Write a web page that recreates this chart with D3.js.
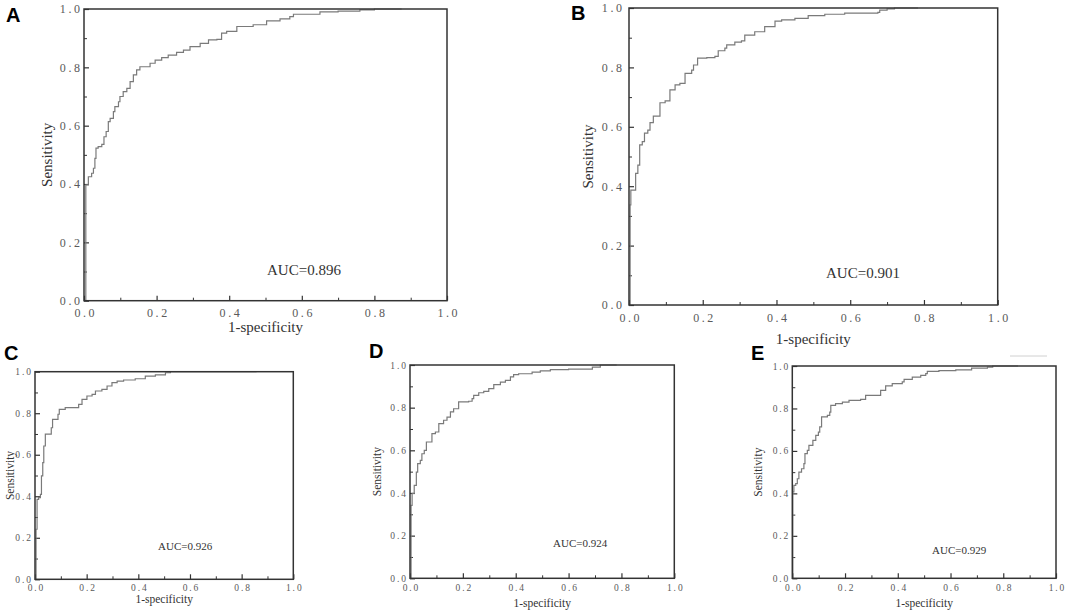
<!DOCTYPE html>
<html><head><meta charset="utf-8">
<script src="https://cdn.jsdelivr.net/npm/d3@7/dist/d3.min.js"></script>
<style>
html,body{margin:0;padding:0;background:#fff;}
svg{display:block;}
</style></head>
<body>
<svg id="chart" width="1065" height="611"></svg>
<script>
// ---------- DATA ----------
const panelLetters = ["A", "B", "C", "D", "E"];
const aucLabels = ["AUC=0.896", "AUC=0.901", "AUC=0.926", "AUC=0.924", "AUC=0.929"];
const xAxisTitle = "1-specificity";
const yAxisTitle = "Sensitivity";
const majorTicks = [0, 0.2, 0.4, 0.6, 0.8, 1.0];
const minorTicks = [0.1, 0.3, 0.5, 0.7, 0.9];

// [1-specificity, sensitivity]
const rocA = [[0,0],[0.005,0.077],[0.005,0.397],[0.012,0.425],[0.021,0.437],[0.026,0.454],[0.030,0.488],[0.033,0.523],[0.039,0.528],[0.049,0.536],[0.055,0.562],[0.061,0.580],[0.067,0.614],[0.072,0.625],[0.081,0.648],[0.085,0.665],[0.095,0.682],[0.099,0.700],[0.108,0.717],[0.118,0.728],[0.127,0.751],[0.136,0.774],[0.145,0.791],[0.154,0.802],[0.168,0.802],[0.182,0.814],[0.196,0.825],[0.214,0.833],[0.232,0.842],[0.255,0.851],[0.274,0.859],[0.292,0.871],[0.320,0.882],[0.343,0.894],[0.366,0.896],[0.379,0.917],[0.393,0.923],[0.421,0.940],[0.466,0.946],[0.503,0.959],[0.540,0.966],[0.567,0.974],[0.577,0.982],[0.620,0.982],[0.650,0.990],[0.700,0.993],[0.760,0.997],[0.800,1.0],[0.875,1.0]];
const rocB = [[0,0],[0.003,0.337],[0.005,0.387],[0.018,0.387],[0.018,0.443],[0.024,0.471],[0.029,0.539],[0.036,0.550],[0.042,0.579],[0.051,0.589],[0.057,0.614],[0.066,0.636],[0.084,0.636],[0.084,0.681],[0.098,0.687],[0.111,0.724],[0.125,0.741],[0.138,0.746],[0.152,0.780],[0.170,0.791],[0.175,0.808],[0.186,0.831],[0.211,0.833],[0.233,0.837],[0.242,0.856],[0.260,0.865],[0.265,0.876],[0.287,0.885],[0.305,0.889],[0.314,0.909],[0.341,0.920],[0.368,0.937],[0.396,0.956],[0.414,0.960],[0.450,0.965],[0.486,0.974],[0.531,0.979],[0.585,0.983],[0.675,0.985],[0.680,0.993],[0.700,0.997],[0.720,1.0],[0.784,1.0]];
const rocC = [[0,0],[0.004,0.128],[0.004,0.241],[0.008,0.385],[0.014,0.393],[0.021,0.409],[0.025,0.498],[0.030,0.562],[0.034,0.642],[0.040,0.699],[0.059,0.699],[0.063,0.730],[0.068,0.770],[0.085,0.770],[0.089,0.795],[0.094,0.819],[0.117,0.827],[0.156,0.827],[0.169,0.843],[0.182,0.867],[0.201,0.883],[0.221,0.891],[0.234,0.907],[0.259,0.915],[0.279,0.931],[0.298,0.947],[0.318,0.955],[0.343,0.960],[0.388,0.966],[0.427,0.979],[0.466,0.985],[0.505,0.995],[0.524,1.0],[0.858,1.0]];
const rocD = [[0,0],[0.004,0.279],[0.004,0.342],[0.008,0.398],[0.016,0.398],[0.016,0.436],[0.024,0.498],[0.029,0.538],[0.039,0.553],[0.045,0.584],[0.054,0.600],[0.062,0.639],[0.079,0.639],[0.083,0.678],[0.096,0.686],[0.109,0.725],[0.127,0.741],[0.140,0.756],[0.153,0.780],[0.165,0.795],[0.184,0.827],[0.222,0.830],[0.235,0.842],[0.241,0.858],[0.260,0.870],[0.279,0.876],[0.298,0.889],[0.317,0.908],[0.342,0.920],[0.361,0.928],[0.380,0.944],[0.392,0.955],[0.411,0.959],[0.443,0.959],[0.462,0.967],[0.493,0.972],[0.531,0.978],[0.600,0.981],[0.673,0.981],[0.690,0.990],[0.720,1.0],[0.782,1.0]];
const rocE = [[0,0],[0.002,0.140],[0.002,0.407],[0.006,0.438],[0.013,0.446],[0.019,0.469],[0.025,0.500],[0.035,0.516],[0.044,0.540],[0.048,0.587],[0.057,0.603],[0.063,0.626],[0.073,0.626],[0.078,0.650],[0.089,0.673],[0.099,0.689],[0.104,0.713],[0.111,0.760],[0.133,0.767],[0.142,0.783],[0.146,0.815],[0.164,0.823],[0.190,0.830],[0.215,0.838],[0.259,0.843],[0.278,0.862],[0.316,0.862],[0.335,0.885],[0.354,0.906],[0.379,0.917],[0.417,0.925],[0.424,0.937],[0.455,0.948],[0.487,0.956],[0.506,0.964],[0.512,0.975],[0.556,0.978],[0.620,0.982],[0.680,0.990],[0.740,0.995],[0.760,1.0],[0.856,1.0]];
const rocSeries = [rocA, rocB, rocC, rocD, rocE];

// ---------- LAYOUT ----------
const layouts = [
  {l:84,  t:9,     r:447,   b:300.7, tickFs:12,  ls:2.6, padX:8,   padY:4, titleFs:15,  aucFs:15, xTitleY:332, yTitleX:47,  letter:[6,22],   auc:[267,275]},
  {l:629, t:8,     r:997.7, b:305,   tickFs:12,  ls:2.6, padX:8.5, padY:7, titleFs:15,  aucFs:15, xTitleY:344, yTitleX:588, letter:[571,20],  auc:[826,278]},
  {l:35,  t:371.7, r:293.3, b:579.3, tickFs:9.5, ls:1.9, padX:5,   padY:4, titleFs:11.5,aucFs:11, xTitleY:603, yTitleX:10,  letter:[4,360],  auc:[158,550]},
  {l:410, t:365,   r:674.3, b:578.3, tickFs:9.5, ls:1.9, padX:5.5, padY:4, titleFs:11.5,aucFs:11, xTitleY:607, yTitleX:377, letter:[369,358], auc:[553,546.5]},
  {l:792.3,t:366,  r:1056,  b:578.3, tickFs:9.5, ls:1.9, padX:5.5, padY:4, titleFs:11.5,aucFs:11, xTitleY:607, yTitleX:758, letter:[751,360], auc:[932,554]}
];

const svg = d3.select("#chart");
const serif = "'Liberation Serif','Times New Roman',serif";
const fmt = d3.format(".1f");

layouts.forEach((L, i) => {
  const x = d3.scaleLinear().domain([0, 1]).range([L.l, L.r]);
  const y = d3.scaleLinear().domain([0, 1]).range([L.b, L.t]);
  const g = svg.append("g");

  // minor ticks
  g.append("g").attr("transform", `translate(0,${L.b})`)
    .call(d3.axisBottom(x).tickValues(minorTicks).tickSize(-3).tickFormat(""))
    .call(s => s.select(".domain").remove())
    .call(s => s.selectAll("line").attr("stroke", "#333").attr("stroke-width", 1));
  g.append("g").attr("transform", `translate(${L.l},0)`)
    .call(d3.axisLeft(y).tickValues(minorTicks).tickSize(-3).tickFormat(""))
    .call(s => s.select(".domain").remove())
    .call(s => s.selectAll("line").attr("stroke", "#333").attr("stroke-width", 1));

  // major ticks + labels
  const xa = g.append("g").attr("transform", `translate(0,${L.b})`)
    .call(d3.axisBottom(x).tickValues(majorTicks).tickSize(-5).tickPadding(L.padX).tickFormat(fmt));
  const ya = g.append("g").attr("transform", `translate(${L.l},0)`)
    .call(d3.axisLeft(y).tickValues(majorTicks).tickSize(-5).tickPadding(L.padY).tickFormat(fmt));
  [xa, ya].forEach(a => {
    a.select(".domain").remove();
    a.selectAll("line").attr("stroke", "#333").attr("stroke-width", 1.2);
    a.selectAll("text")
      .attr("font-family", serif).attr("font-size", L.tickFs)
      .attr("fill", "#5a5a5a").style("letter-spacing", L.ls + "px");
  });
  xa.selectAll("text").attr("dx", (L.ls / 2) + "px");
  ya.selectAll("text").attr("dx", L.ls + "px");

  // ROC curve
  const line = d3.line().x(d => x(d[0])).y(d => y(d[1])).curve(d3.curveStepAfter);
  g.append("path").datum(rocSeries[i])
    .attr("d", line).attr("fill", "none")
    .attr("stroke", "#7a7a7a").attr("stroke-width", 1.2);

  // frame
  g.append("rect")
    .attr("x", L.l).attr("y", L.t)
    .attr("width", L.r - L.l).attr("height", L.b - L.t)
    .attr("fill", "none").attr("stroke", "#333").attr("stroke-width", 1.5);

  // AUC label
  g.append("text").attr("x", L.auc[0]).attr("y", L.auc[1])
    .attr("font-family", serif).attr("font-size", L.aucFs).attr("fill", "#333")
    .text(aucLabels[i]);

  // axis titles
  g.append("text").attr("x", (L.l + L.r) / 2).attr("y", L.xTitleY)
    .attr("text-anchor", "middle")
    .attr("font-family", serif).attr("font-size", L.titleFs).attr("fill", "#333")
    .text(xAxisTitle);
  g.append("text")
    .attr("transform", `translate(${L.yTitleX},${(L.t + L.b) / 2}) rotate(-90)`)
    .attr("text-anchor", "middle").attr("dominant-baseline", "central")
    .attr("font-family", serif).attr("font-size", L.titleFs).attr("fill", "#333")
    .text(yAxisTitle);

  // panel letter
  svg.append("text").attr("x", L.letter[0]).attr("y", L.letter[1])
    .attr("font-family", "'Liberation Sans',Arial,sans-serif")
    .attr("font-weight", "bold").attr("font-size", 20).attr("fill", "#000")
    .text(panelLetters[i]);
});

// faint stray rule near top-right of panel E (present in the source image)
svg.append("line").attr("x1", 1010).attr("x2", 1047).attr("y1", 356).attr("y2", 356)
  .attr("stroke", "#d0d0d0").attr("stroke-width", 1);
</script>
</body></html>
